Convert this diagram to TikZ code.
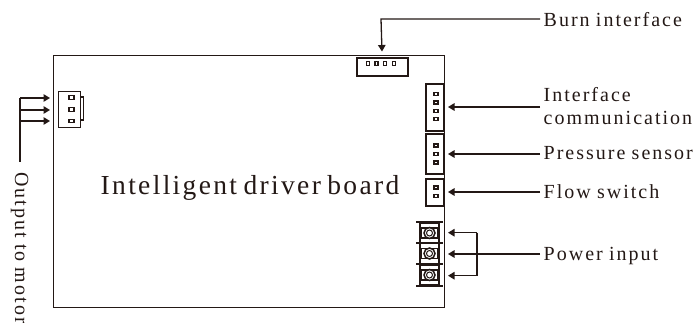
\documentclass[tikz,border=0pt]{standalone}
\usepackage{fontspec}
\setmainfont{Liberation Serif}
\newfontfamily\lblfont[LetterSpace=10,WordSpace=0.9]{Liberation Serif}
\newfontfamily\bigfont[LetterSpace=8.5,WordSpace=0.7]{Liberation Serif}
\usetikzlibrary{arrows.meta}
\definecolor{ink}{HTML}{231815}
\tikzset{
  lead/.style={draw=ink,line width=1.3pt,-{Triangle[length=6.5pt,width=7.5pt]}},
  leadplain/.style={draw=ink,line width=1.3pt},
  housing/.style={draw=ink,line width=2pt,fill=white,inner sep=0pt},
  thinhousing/.style={draw=ink,line width=1.2pt,fill=white,inner sep=0pt},
  pin/.style={draw=ink,line width=1.1pt,fill=white,minimum width=4pt,minimum height=3pt,inner sep=0pt},
  lbl/.style={anchor=west,inner sep=0pt,font=\lblfont\fontsize{20}{22}\selectfont,text=ink,align=left},
  bar/.style={draw=ink,line width=2pt}
}
\begin{document}
\begin{tikzpicture}[x=1pt,y=-1pt]
\useasboundingbox (0,0) rectangle (693,323);
\node[draw=ink,line width=1.2pt,minimum width=391pt,minimum height=252pt,anchor=north west,inner sep=0pt] (board) at (53,55) {};
% connectors
\node[housing,minimum width=51pt,minimum height=18pt,anchor=north west] (burn) at (355.5,57.5) {};
\foreach \i/\x in {1/368,2/376.5,3/385,4/394}{\node[pin,minimum width=3pt,minimum height=4pt] (bp\i) at (\x,63.5) {};}
\node[housing,minimum width=18pt,minimum height=47pt,anchor=north west] (iface) at (424.5,83.5) {};
\foreach \i/\y in {1/94,2/102.5,3/111,4/119}{\node[pin] (ip\i) at (436,\y) {};}
\node[housing,minimum width=18pt,minimum height=40pt,anchor=north west] (press) at (424.5,133.5) {};
\foreach \i/\y in {1/145.5,2/154,3/162.5}{\node[pin] (pp\i) at (436,\y) {};}
\node[housing,minimum width=18pt,minimum height=27pt,anchor=north west] (flow) at (424.5,178.5) {};
\foreach \i/\y in {1/187.5,2/196}{\node[pin] (fp\i) at (436,\y) {};}
% motor connector
\node[thinhousing,minimum width=3pt,minimum height=23pt,anchor=west] (tab) at (80,108.5) {};
\node[thinhousing,minimum width=22pt,minimum height=36pt,anchor=north west] (motor) at (58,91) {};
\foreach \i/\y in {1/97.5,2/109.5,3/121}{\node[pin,minimum width=5pt,minimum height=3.5pt] (mp\i) at (71.5,\y) {};}
% terminal block
\foreach \i/\y in {1/233,2/253.5,3/275}{
  \node[draw=ink,line width=1.5pt,fill=white,minimum width=19pt,minimum height=20pt,inner sep=0pt] (t\i) at (429.5,\y) {};
  \draw[draw=ink,line width=1.2pt] (421,\y-5) rectangle (438,\y+5);
  \node[circle,draw=ink,line width=1.5pt,fill=white,minimum size=11pt,inner sep=0pt] (s\i) at (429.5,\y) {};
  \node[circle,draw=ink,line width=1pt,minimum size=6pt,inner sep=0pt] (c\i) at (429.5,\y) {};
}
\foreach \y in {222.3,242.7,264,286}{\draw[bar] (416,\y) -- (443,\y);}
% leads
\coordinate (burnend) at (540,19);
\coordinate (burnbend) at (381,19);
\draw[lead] (burnend) -- (burnbend) -- (burn.north |- 0,51.5);
\coordinate (ifend) at (540,107);
\coordinate (ifhead) at (448,107);
\draw[lead] (ifend) -- (ifhead);
\coordinate (prend) at (540,154);
\coordinate (prhead) at (448,154);
\draw[lead] (prend) -- (prhead);
\coordinate (flend) at (540,192);
\coordinate (flhead) at (448,192);
\draw[lead] (flend) -- (flhead);
\coordinate (pwend) at (540,254);
\coordinate (pwa) at (448,232.7);
\coordinate (pwb) at (448,254);
\coordinate (pwc) at (448,275.7);
\coordinate (pwv1) at (477,232.7);
\coordinate (pwv2) at (477,275.7);
\draw[lead] (pwend) -- (pwb);
\draw[lead] (pwv1) -- (pwa);
\draw[lead] (pwv2) -- (pwc);
\draw[leadplain] (pwv1) -- (pwv2);
\coordinate (mtop) at (20,98);
\coordinate (mmid) at (20,110);
\coordinate (mbot) at (20,121);
\coordinate (mend) at (20,162);
\coordinate (ma) at (50,98);
\coordinate (mb) at (50,110);
\coordinate (mc) at (50,121);
\draw[leadplain] (mtop) -- (mend);
\draw[lead] (mtop) -- (ma);
\draw[lead] (mmid) -- (mb);
\draw[lead] (mbot) -- (mc);
% labels
\node[anchor=base,inner sep=0pt,font=\bigfont\fontsize{27.5}{30}\selectfont,text=ink] (title) at (250,194) {Intelligent driver board};
\node[lbl,anchor=base west] (l1) at (543.5,27) {Burn interface};
\node[lbl,anchor=base west] (l2a) at (543.5,102) {Interface};
\node[lbl,anchor=base west] (l2b) at (543.5,125) {communication};
\node[lbl,anchor=base west] (l3) at (543.5,160) {Pressure sensor};
\node[lbl,anchor=base west] (l4) at (543.5,198.5) {Flow switch};
\node[lbl,anchor=base west] (l5) at (543.5,260) {Power input};
\node[inner sep=0pt,font=\lblfont\fontsize{20}{22}\selectfont,text=ink,rotate=-90,anchor=base] (l6) at (15,248) {Output to motor};
\end{tikzpicture}
\end{document}
